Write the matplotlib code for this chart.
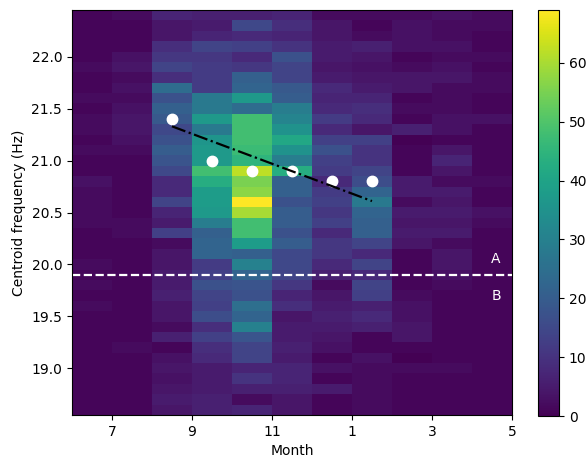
import numpy as np
import matplotlib
matplotlib.use("Agg")
from matplotlib import pyplot as plt

# ---- data ----
# month bin edges (7 = July, 13 = January of next year, ...)
month_edges = np.arange(6, 18)
month_ticks = [7, 9, 11, 13, 15, 17]
month_labels = ['7', '9', '11', '1', '3', '5']

# frequency bin centres, top row first
freq_centers = np.round(np.arange(22.4, 18.55, -0.1), 1)

# counts per bin; rows follow freq_centers, columns follow the 11 month bins
counts = [
    [1, 2, 7, 6, 6, 7, 2, 2, 2, 3, 2],
    [1, 1, 4, 5, 15, 9, 4, 1, 3, 2, 2],
    [1, 1, 4, 7, 8, 7, 4, 2, 3, 2, 1],
    [1, 1, 9, 14, 13, 10, 5, 6, 3, 3, 1],
    [1, 3, 11, 11, 8, 17, 5, 4, 1, 2, 2],
    [2, 4, 14, 12, 11, 14, 4, 3, 2, 3, 1],
    [1, 2, 9, 12, 21, 14, 5, 4, 4, 4, 2],
    [1, 3, 24, 12, 22, 19, 8, 5, 4, 2, 2],
    [2, 2, 17, 28, 37, 20, 7, 7, 1, 2, 1],
    [1, 3, 21, 28, 24, 29, 8, 9, 2, 2, 1],
    [2, 4, 19, 37, 48, 31, 12, 8, 1, 3, 3],
    [2, 4, 15, 28, 48, 35, 8, 4, 6, 3, 1],
    [1, 3, 17, 36, 48, 41, 13, 13, 0, 1, 1],
    [2, 2, 20, 37, 47, 35, 17, 10, 1, 4, 1],
    [1, 1, 18, 37, 45, 29, 13, 10, 1, 7, 1],
    [1, 1, 15, 48, 62, 43, 12, 14, 1, 4, 1],
    [3, 1, 8, 43, 55, 21, 8, 16, 5, 2, 2],
    [2, 1, 8, 38, 57, 21, 12, 22, 5, 5, 1],
    [2, 1, 14, 38, 69, 17, 13, 28, 2, 4, 1],
    [2, 1, 7, 37, 60, 20, 11, 22, 5, 5, 3],
    [2, 2, 5, 29, 48, 20, 13, 21, 4, 4, 2],
    [1, 2, 13, 21, 48, 17, 8, 21, 5, 5, 1],
    [1, 1, 2, 22, 38, 20, 11, 14, 4, 2, 1],
    [1, 1, 4, 22, 21, 15, 11, 8, 1, 4, 1],
    [2, 1, 4, 12, 30, 15, 8, 14, 1, 4, 1],
    [1, 1, 5, 13, 22, 14, 6, 8, 1, 3, 1],
    [2, 1, 5, 17, 18, 11, 2, 14, 1, 2, 1],
    [1, 1, 6, 14, 17, 7, 4, 13, 2, 1, 1],
    [2, 1, 4, 13, 25, 9, 5, 6, 3, 1, 1],
    [1, 1, 4, 16, 22, 4, 6, 8, 3, 1, 1],
    [1, 1, 2, 9, 30, 5, 5, 6, 4, 1, 1],
    [1, 1, 6, 13, 18, 5, 4, 1, 4, 1, 1],
    [1, 2, 1, 9, 14, 6, 3, 1, 1, 1, 1],
    [1, 1, 3, 8, 14, 5, 1, 3, 0, 1, 1],
    [1, 1, 4, 5, 7, 7, 3, 2, 2, 2, 1],
    [1, 1, 3, 5, 10, 7, 1, 2, 1, 1, 1],
    [1, 1, 4, 5, 6, 6, 5, 2, 1, 1, 1],
    [1, 1, 5, 6, 2, 4, 1, 2, 1, 1, 1],
    [1, 1, 4, 6, 7, 4, 1, 2, 1, 1, 1],
]

# monthly centroid (white dots)
centroid_months = [8.5, 9.5, 10.5, 11.5, 12.5, 13.5]
centroid_freqs = [21.4, 21.0, 20.9, 20.9, 20.8, 20.8]

# linear trend (dash-dot line), values at first and last month
trend_months = [8.5, 13.5]
trend_freqs = [21.33, 20.61]

boundary_freq = 19.9

# ---- plot ----
grid = np.array(counts)[::-1]          # bottom row first
freq_edges = np.round(np.arange(18.55, 22.46, 0.1), 2)

fig = plt.figure(figsize=(5.88, 4.57), dpi=100)
ax = fig.add_axes([0.1224, 0.0919, 0.7483, 0.8862])
cax = fig.add_axes([0.915, 0.0897, 0.036, 0.8884])

mesh = ax.pcolormesh(month_edges, freq_edges, grid, cmap='viridis', vmin=0, vmax=69)

ax.plot(centroid_months, centroid_freqs, 'o', color='white', markersize=7.5, zorder=3)
ax.plot(trend_months, trend_freqs, '-.', color='black', linewidth=1.6, zorder=4)

ax.axhline(boundary_freq, color='white', linestyle='--', linewidth=1.6, zorder=2)
ax.text(16.6, boundary_freq + 0.15, 'A', color='white', ha='center', va='center', fontsize=10)
ax.text(16.6, boundary_freq - 0.2, 'B', color='white', ha='center', va='center', fontsize=10)

ax.set_xlim(6, 17)
ax.set_ylim(18.55, 22.45)
ax.set_xticks(month_ticks)
ax.set_xticklabels(month_labels)
ax.set_yticks([19.0, 19.5, 20.0, 20.5, 21.0, 21.5, 22.0])
ax.set_xlabel('Month')
ax.set_ylabel('Centroid frequency (Hz)')

cb = fig.colorbar(mesh, cax=cax)
cb.set_ticks([0, 10, 20, 30, 40, 50, 60])

fig.savefig('out.png', dpi=100)
